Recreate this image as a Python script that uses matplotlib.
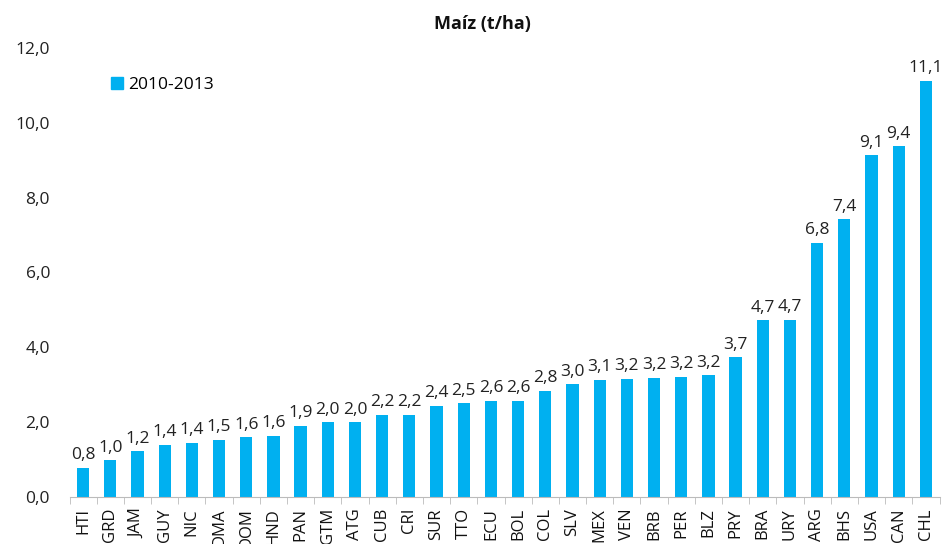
import matplotlib
matplotlib.use("Agg")
import matplotlib.pyplot as plt
from matplotlib.patches import Patch

categories = ["HTI", "GRD", "JAM", "GUY", "NIC", "DMA", "DOM", "HND", "PAN", "GTM",
              "ATG", "CUB", "CRI", "SUR", "TTO", "ECU", "BOL", "COL", "SLV", "MEX",
              "VEN", "BRB", "PER", "BLZ", "PRY", "BRA", "URY", "ARG", "BHS", "USA",
              "CAN", "CHL"]
values = [0.78, 0.98, 1.22, 1.4, 1.45, 1.53, 1.6, 1.64, 1.9, 2.0,
          2.0, 2.2, 2.2, 2.44, 2.5, 2.57, 2.57, 2.84, 3.02, 3.14,
          3.16, 3.19, 3.22, 3.25, 3.74, 4.72, 4.74, 6.8, 7.42, 9.14,
          9.38, 11.12]
series_name = "2010-2013"
y_ticks = [0, 2, 4, 6, 8, 10, 12]

color = "#00B0F0"
plt.rcParams['font.family'] = ['Open Sans', 'DejaVu Sans']

fig = plt.figure(figsize=(9.44, 5.44), dpi=100)
ax = fig.add_axes([69.5 / 944, 47 / 544, 870 / 944, 449 / 544])

x = list(range(len(categories)))
ax.bar(x, values, width=0.45, color=color)
for xi, v in zip(x, values):
    ax.text(xi, v + 0.12, f"{v:.1f}".replace(".", ","), ha="center", va="bottom",
            fontsize=12.5, color="#222222")

ax.set_xlim(-0.5, len(categories) - 0.5)
ax.set_ylim(0, 12)
ax.set_yticks(y_ticks)
ax.set_yticklabels([f"{t:.1f}".replace(".", ",") for t in y_ticks], fontsize=12.5, color="#222222")
ax.tick_params(axis="y", length=0, pad=14)

ax.set_xticks(x)
ax.set_xticklabels(categories, rotation=90, fontsize=12, color="#111111")
ax.set_xticks([i - 0.5 for i in range(len(categories) + 1)], minor=True)
ax.tick_params(axis="x", which="major", length=0, pad=8)
ax.tick_params(axis="x", which="minor", length=5, color="#BBBBBB", direction="out")

for s in ["top", "right", "left"]:
    ax.spines[s].set_visible(False)
ax.spines["bottom"].set_color("#BBBBBB")

fig.text(482 / 944, 1 - 24 / 544, "Maíz (t/ha)", fontsize=13, fontweight="bold",
         color="#111111", ha="center", va="center")

ax.legend(handles=[Patch(color=color, label=series_name)], loc="upper left",
          bbox_to_anchor=(0.03, 0.97), frameon=False, fontsize=12.5,
          handlelength=0.7, handleheight=0.7, handletextpad=0.3)

fig.savefig("out.png", dpi=100)
